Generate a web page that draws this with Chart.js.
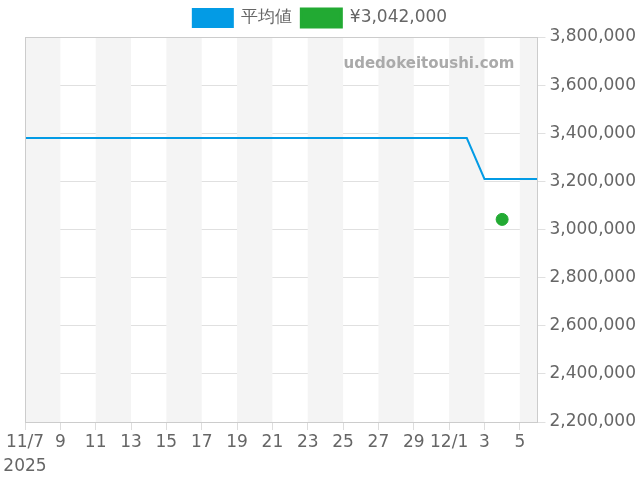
<!DOCTYPE html>
<html>
<head>
<meta charset="utf-8">
<script src="https://cdn.jsdelivr.net/npm/chart.js@4"></script>
<style>
  html, body { margin: 0; padding: 0; background: #fff; }
  #wrap { width: 640px; height: 480px; position: relative; }
</style>
</head>
<body>
<div id="wrap"><canvas id="priceChart"></canvas></div>
<script>
// dates shown on the axis (11/7 .. 12/6)
var dates = [
  '11/7', '11/8', '11/9', '11/10', '11/11', '11/12', '11/13', '11/14', '11/15', '11/16',
  '11/17', '11/18', '11/19', '11/20', '11/21', '11/22', '11/23', '11/24', '11/25', '11/26',
  '11/27', '11/28', '11/29', '11/30', '12/1', '12/2', '12/3', '12/4', '12/5', '12/6'
];
var averagePrices = [
  3380000, 3380000, 3380000, 3380000, 3380000, 3380000, 3380000, 3380000, 3380000, 3380000,
  3380000, 3380000, 3380000, 3380000, 3380000, 3380000, 3380000, 3380000, 3380000, 3380000,
  3380000, 3380000, 3380000, 3380000, 3380000, 3380000, 3210000, 3210000, 3210000, 3210000
];
var salePrices = [{ date: '12/4', price: 3042000 }];
var yTicks = [2200000, 2400000, 2600000, 2800000, 3000000, 3200000, 3400000, 3600000, 3800000];

var FONT = '"DejaVu Sans", sans-serif';

var avgPoints = averagePrices.map(function (v, i) { return { x: i, y: v }; });
var salePoints = salePrices.map(function (s) { return { x: dates.indexOf(s.date), y: s.price }; });

function tickLabel(i) {
  var d = dates[i];
  if (!d) return '';
  var parts = d.split('/');
  if (i === 0) return [d, '2025'];
  if (parts[1] === '1') return d;
  return parts[1];
}

var bandPlugin = {
  id: 'bands',
  beforeDatasetsDraw: function (chart) {
    var ctx = chart.ctx, area = chart.chartArea, xs = chart.scales.x;
    ctx.save();
    ctx.fillStyle = '#f4f4f4';
    for (var i = 0; i < dates.length; i += 4) {
      var x1 = xs.getPixelForValue(i);
      var x2 = Math.min(xs.getPixelForValue(i + 2), area.right);
      ctx.fillRect(x1, area.top, x2 - x1, area.bottom - area.top);
    }
    ctx.restore();
  },
  afterDatasetsDraw: function (chart) {
    var ctx = chart.ctx, area = chart.chartArea;
    ctx.save();
    // frame around the plot
    ctx.strokeStyle = '#cccccc';
    ctx.lineWidth = 1;
    ctx.strokeRect(Math.round(area.left) + 0.5, Math.round(area.top) + 0.5,
      Math.round(area.right - area.left), Math.round(area.bottom - area.top));
    ctx.font = 'bold 15px ' + FONT;
    ctx.fillStyle = '#aaaaaa';
    ctx.textAlign = 'right';
    ctx.textBaseline = 'middle';
    ctx.fillText('udedokeitoushi.com', area.right - 23, area.top + 27);
    ctx.restore();
  }
};

new Chart(document.getElementById('priceChart'), {
  type: 'line',
  data: {
    datasets: [{
      label: '平均値',
      data: avgPoints,
      borderColor: '#039be5',
      backgroundColor: '#039be5',
      borderWidth: 2,
      pointRadius: 0,
      tension: 0
    }, {
      label: '¥3,042,000',
      data: salePoints,
      showLine: false,
      borderColor: '#22aa33',
      backgroundColor: '#22aa33',
      pointRadius: 6,
      pointHoverRadius: 6
    }]
  },
  options: {
    responsive: true,
    maintainAspectRatio: false,
    animation: false,
    layout: { padding: { left: 0, right: 0, top: 0, bottom: 4 } },
    plugins: {
      legend: {
        position: 'top',
        labels: {
          boxWidth: 40,
          boxHeight: 18,
          padding: 9,
          color: '#666',
          font: { family: FONT, size: 17 }
        }
      },
      tooltip: { enabled: false }
    },
    scales: {
      x: {
        type: 'linear',
        min: 0,
        max: dates.length - 1,
        afterBuildTicks: function (axis) {
          var t = [];
          for (var i = 0; i < dates.length; i += 2) t.push({ value: i });
          axis.ticks = t;
        },
        afterFit: function (axis) {
          axis.height = 54;
          axis.paddingLeft = 25;
        },
        grid: { display: true, drawOnChartArea: false, drawTicks: true, tickLength: 8, color: '#ddd' },
        border: { display: true, color: '#ccc' },
        ticks: {
          autoSkip: false,
          maxRotation: 0,
          color: '#666',
          font: { family: FONT, size: 17, lineHeight: 1.45 },
          padding: 0,
          callback: function (v) { return tickLabel(v); }
        }
      },
      y: {
        position: 'right',
        min: yTicks[0],
        max: yTicks[yTicks.length - 1],
        afterBuildTicks: function (axis) {
          axis.ticks = yTicks.map(function (v) { return { value: v }; });
        },
        grid: { color: '#e0e0e0', tickLength: 8 },
        border: { display: true, color: '#ccc' },
        ticks: {
          color: '#666',
          font: { family: FONT, size: 17 },
          padding: 4,
          callback: function (v) { return v.toLocaleString('en-US'); }
        }
      }
    }
  },
  plugins: [bandPlugin]
});
</script>
</body>
</html>
